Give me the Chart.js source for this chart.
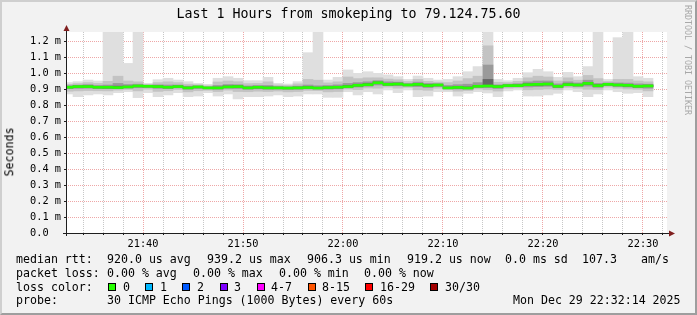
<!DOCTYPE html>
<html>
<head>
<meta charset="utf-8">
<script src="https://cdn.jsdelivr.net/npm/chart.js@4.4.1/dist/chart.umd.min.js"></script>
<style>
  html, body { margin: 0; padding: 0; }
  body {
    width: 697px; height: 315px; position: relative; overflow: hidden;
    background: #f2f2f2; color: #000;
    font-family: "DejaVu Sans Mono", monospace;
  }
  #frame {
    position: absolute; left: 0; top: 0; width: 697px; height: 315px;
    box-sizing: border-box; border-style: solid; border-width: 2px;
    border-color: #cfcfcf #9e9e9e #9e9e9e #cfcfcf; pointer-events: none;
  }
  canvas { position: absolute; left: 0; top: 0; }
  .t { position: absolute; white-space: pre; line-height: 1; font-size: 11.6px; }
  .sw { position: absolute; width: 8px; height: 8px; box-sizing: border-box; border: 1px solid #000; }
  #title { position: absolute; left: 0; width: 697px; top: 6.6px; text-align: center; font-size: 13.3px; line-height: 1; white-space: pre; }
  #ylabel { position: absolute; left: 10px; top: 152px; font-size: 11.6px; line-height: 1;
            transform: translate(-50%, -50%) rotate(-90deg); white-space: pre; }
  #mark { position: absolute; left: 684px; top: 5px; font-size: 8.3px; line-height: 1; color: #a8a8a8;
          writing-mode: vertical-rl; white-space: pre; }
</style>
</head>
<body>
<canvas id="smoke" width="697" height="315"></canvas>

<div id="title">Last 1 Hours from smokeping to 79.124.75.60</div>
<div id="ylabel">Seconds</div>
<div id="mark">RRDTOOL / TOBI OETIKER</div>

<div class="t" style="left:16px; top:254.4px">median rtt:</div>
<div class="t" style="left:107px; top:254.4px">920.0 us avg</div>
<div class="t" style="left:207px; top:254.4px">939.2 us max</div>
<div class="t" style="left:307px; top:254.4px">906.3 us min</div>
<div class="t" style="left:407px; top:254.4px">919.2 us now</div>
<div class="t" style="left:505px; top:254.4px">0.0 ms sd</div>
<div class="t" style="left:582px; top:254.4px">107.3</div>
<div class="t" style="left:641px; top:254.4px">am/s</div>

<div class="t" style="left:16px; top:268.1px">packet loss:</div>
<div class="t" style="left:107px; top:268.1px">0.00 % avg</div>
<div class="t" style="left:193px; top:268.1px">0.00 % max</div>
<div class="t" style="left:279px; top:268.1px">0.00 % min</div>
<div class="t" style="left:364px; top:268.1px">0.00 % now</div>

<div class="t" style="left:16px; top:281.7px">loss color:</div>
<div id="lossKey"></div>

<div class="t" style="left:16px; top:295.4px">probe:</div>
<div class="t" style="left:107px; top:295.4px">30 ICMP Echo Pings (1000 Bytes) every 60s</div>
<div class="t" style="left:513px; top:295.4px">Mon Dec 29 22:32:14 2025</div>

<div id="frame"></div>

<script>
// one bar per minute, x in minutes after midnight (bar k = 21:32+k .. 21:33+k)
const startMinute = 1292;
const viewStart = 1292.3;   // 21:32:14 roughly
const viewEnd = 1352.4;

// values in ms
const median = [0.911, 0.915, 0.915, 0.911, 0.911, 0.909, 0.913, 0.919, 0.917, 0.915,
  0.911, 0.915, 0.907, 0.913, 0.907, 0.907, 0.913, 0.915, 0.907, 0.911,
  0.907, 0.907, 0.906, 0.907, 0.909, 0.906, 0.909, 0.911, 0.915, 0.923,
  0.927, 0.939, 0.929, 0.931, 0.925, 0.929, 0.921, 0.925, 0.907, 0.910,
  0.906, 0.917, 0.919, 0.915, 0.921, 0.921, 0.927, 0.929, 0.931, 0.917,
  0.927, 0.925, 0.935, 0.921, 0.929, 0.925, 0.923, 0.917, 0.919];

const pingMin = [0.869, 0.852, 0.863, 0.869, 0.863, 0.877, 0.883, 0.846, 0.877, 0.852,
  0.863, 0.877, 0.852, 0.856, 0.877, 0.856, 0.869, 0.838, 0.852, 0.852,
  0.856, 0.863, 0.852, 0.856, 0.869, 0.869, 0.848, 0.848, 0.883, 0.863,
  0.883, 0.869, 0.894, 0.877, 0.894, 0.852, 0.856, 0.883, 0.883, 0.856,
  0.873, 0.883, 0.875, 0.852, 0.888, 0.894, 0.856, 0.856, 0.863, 0.873,
  0.894, 0.883, 0.852, 0.869, 0.894, 0.883, 0.873, 0.877, 0.852];

// 1.300 = went off the top of the graph
const pingMax = [0.940, 0.946, 0.956, 0.950, 1.300, 1.300, 1.060, 1.300, 0.935, 0.958,
  0.967, 0.956, 0.946, 0.935, 0.929, 0.967, 0.977, 0.967, 0.952, 0.952,
  0.973, 0.935, 0.931, 0.946, 1.127, 1.300, 0.956, 0.973, 1.019, 0.998,
  1.008, 0.998, 0.988, 0.977, 0.960, 0.981, 0.967, 0.956, 0.960, 0.977,
  1.008, 1.040, 1.300, 0.960, 0.952, 0.967, 1.002, 1.023, 1.008, 0.973,
  1.004, 0.977, 1.040, 1.300, 0.960, 1.221, 1.300, 0.977, 0.967];

const p10 = [0.886, 0.888, 0.890, 0.889, 0.888, 0.893, 0.897, 0.888, 0.899, 0.885,
  0.889, 0.897, 0.882, 0.889, 0.892, 0.884, 0.893, 0.884, 0.883, 0.886,
  0.884, 0.887, 0.882, 0.884, 0.891, 0.890, 0.882, 0.884, 0.900, 0.896,
  0.906, 0.905, 0.912, 0.905, 0.910, 0.895, 0.892, 0.905, 0.895, 0.886,
  0.890, 0.900, 0.895, 0.887, 0.905, 0.907, 0.895, 0.897, 0.900, 0.897,
  0.910, 0.905, 0.898, 0.897, 0.912, 0.905, 0.900, 0.898, 0.888];

const p90 = [0.929, 0.934, 0.940, 0.935, 0.948, 0.980, 0.950, 0.945, 0.928, 0.940,
  0.945, 0.940, 0.930, 0.927, 0.920, 0.944, 0.950, 0.946, 0.934, 0.935,
  0.945, 0.925, 0.922, 0.932, 0.960, 0.955, 0.938, 0.945, 0.975, 0.965,
  0.970, 0.970, 0.962, 0.958, 0.947, 0.960, 0.948, 0.943, 0.940, 0.950,
  0.965, 0.980, 1.170, 0.942, 0.940, 0.948, 0.970, 0.980, 0.975, 0.950,
  0.970, 0.955, 0.985, 0.965, 0.947, 0.960, 0.960, 0.950, 0.945];

const p25 = [0.902, 0.904, 0.905, 0.902, 0.902, 0.902, 0.905, 0.908, 0.910, 0.904,
  0.902, 0.907, 0.898, 0.903, 0.900, 0.898, 0.904, 0.903, 0.898, 0.901,
  0.898, 0.899, 0.897, 0.898, 0.901, 0.899, 0.899, 0.901, 0.907, 0.912,
  0.917, 0.925, 0.921, 0.920, 0.918, 0.915, 0.909, 0.916, 0.901, 0.900,
  0.899, 0.909, 0.908, 0.903, 0.913, 0.914, 0.913, 0.915, 0.917, 0.908,
  0.919, 0.916, 0.918, 0.910, 0.921, 0.916, 0.912, 0.908, 0.905];

const p75 = [0.921, 0.924, 0.927, 0.922, 0.925, 0.935, 0.928, 0.930, 0.924, 0.926,
  0.925, 0.925, 0.918, 0.920, 0.914, 0.922, 0.928, 0.927, 0.919, 0.922,
  0.922, 0.916, 0.914, 0.918, 0.925, 0.920, 0.922, 0.926, 0.935, 0.940,
  0.945, 0.952, 0.945, 0.943, 0.935, 0.943, 0.935, 0.934, 0.922, 0.927,
  0.930, 0.940, 1.050, 0.926, 0.930, 0.933, 0.945, 0.950, 0.950, 0.932,
  0.945, 0.938, 0.955, 0.935, 0.938, 0.938, 0.937, 0.932, 0.930];

const p40 = [0.907, 0.910, 0.911, 0.907, 0.906, 0.905, 0.909, 0.914, 0.913, 0.910,
  0.907, 0.911, 0.903, 0.908, 0.904, 0.903, 0.909, 0.910, 0.903, 0.906,
  0.903, 0.903, 0.902, 0.903, 0.905, 0.902, 0.904, 0.906, 0.911, 0.918,
  0.922, 0.933, 0.925, 0.926, 0.921, 0.923, 0.916, 0.920, 0.903, 0.905,
  0.902, 0.913, 0.914, 0.910, 0.917, 0.917, 0.921, 0.923, 0.925, 0.912,
  0.922, 0.920, 0.929, 0.916, 0.925, 0.920, 0.918, 0.912, 0.914];

const p60 = [0.915, 0.919, 0.920, 0.916, 0.917, 0.918, 0.918, 0.923, 0.920, 0.920,
  0.916, 0.919, 0.912, 0.916, 0.910, 0.912, 0.919, 0.920, 0.912, 0.916,
  0.913, 0.911, 0.910, 0.912, 0.915, 0.911, 0.914, 0.917, 0.922, 0.930,
  0.934, 0.944, 0.936, 0.937, 0.929, 0.935, 0.928, 0.929, 0.912, 0.916,
  0.913, 0.923, 0.960, 0.920, 0.925, 0.926, 0.933, 0.935, 0.937, 0.923,
  0.933, 0.930, 0.942, 0.927, 0.933, 0.930, 0.929, 0.923, 0.924];

const timeTicks = [1300, 1310, 1320, 1330, 1340, 1350];
const timeLabels = ["21:40", "21:50", "22:00", "22:10", "22:20", "22:30"];
const valueTicks = [0, 0.1, 0.2, 0.3, 0.4, 0.5, 0.6, 0.7, 0.8, 0.9, 1.0, 1.1, 1.2];
const valueLabels = ["0.0  ", "0.1 m", "0.2 m", "0.3 m", "0.4 m", "0.5 m", "0.6 m",
  "0.7 m", "0.8 m", "0.9 m", "1.0 m", "1.1 m", "1.2 m"];

const lossNames = ["0", "1", "2", "3", "4-7", "8-15", "16-29", "30/30"];
const lossColors = ["#26ff00", "#00b8ff", "#0059ff", "#7e00ff", "#ff00ff", "#ff5500", "#ff0000", "#a10000"];
const lossBoxX = [108, 145, 182, 219.5, 256.5, 307.5, 365, 430];
const lossTextX = [123, 160, 197, 234, 271, 322, 380, 445];

// legend swatches
const key = document.getElementById("lossKey");
lossNames.forEach((name, i) => {
  const box = document.createElement("div");
  box.className = "sw";
  box.style.left = lossBoxX[i] + "px";
  box.style.top = "283.3px";
  box.style.background = lossColors[i];
  key.appendChild(box);
  const txt = document.createElement("div");
  txt.className = "t";
  txt.style.left = lossTextX[i] + "px";
  txt.style.top = "281.7px";
  txt.textContent = name;
  key.appendChild(txt);
});

const PX = 0.00625; // one pixel of the value axis, median band is 2px tall
const GRID = "rgba(143,143,143,0.5)";
const MGRID = "rgba(222,79,79,0.5)";
const NONE = "rgba(0,0,0,0)";

function band(lo, hi) {
  return lo.map((v, k) => ({ x: startMinute + k + 0.5, y: [v, hi[k]] }));
}

const rrdFrame = {
  id: "rrdFrame",
  beforeDraw(chart) {
    const { ctx, chartArea: a } = chart;
    ctx.save();
    ctx.fillStyle = "#ffffff";
    ctx.fillRect(a.left, a.top, a.right - a.left, a.bottom - a.top);
    ctx.restore();
  },
  afterDraw(chart) {
    const { ctx, chartArea: a } = chart;
    ctx.save();
    ctx.strokeStyle = "#1f1f1f";
    ctx.lineWidth = 1;
    ctx.beginPath();
    ctx.moveTo(a.left - 3, a.bottom + 0.5);
    ctx.lineTo(a.right + 3, a.bottom + 0.5);
    ctx.moveTo(a.left + 0.5, a.bottom + 3);
    ctx.lineTo(a.left + 0.5, a.top - 3);
    ctx.stroke();
    ctx.fillStyle = "#801f1f";
    ctx.beginPath();
    ctx.moveTo(a.right + 8, a.bottom + 0.5);
    ctx.lineTo(a.right + 2, a.bottom - 2.5);
    ctx.lineTo(a.right + 2, a.bottom + 3.5);
    ctx.closePath();
    ctx.fill();
    ctx.beginPath();
    ctx.moveTo(a.left + 0.5, a.top - 7);
    ctx.lineTo(a.left - 2.5, a.top - 1);
    ctx.lineTo(a.left + 3.5, a.top - 1);
    ctx.closePath();
    ctx.fill();
    ctx.restore();
  }
};

const gridMinutes = [];
for (let m = 1294; m <= 1352; m += 2) gridMinutes.push(m);

const tickFont = { family: "DejaVu Sans Mono", size: 10.3 };

new Chart(document.getElementById("smoke"), {
  type: "bar",
  data: {
    datasets: [
      {
        label: "median",
        data: median.map((v, k) => ({ x: startMinute + k + 0.5, y: [v - PX, v + PX] })),
        backgroundColor: lossColors[0],
        order: 0,
        clip: 0,
      },
      { label: "p40-p60", data: band(p40, p60), backgroundColor: "#666666", order: 1, clip: 0 },
      { label: "p25-p75", data: band(p25, p75), backgroundColor: "#9a9a9a", order: 2, clip: 0 },
      { label: "p10-p90", data: band(p10, p90), backgroundColor: "#c3c3c3", order: 3, clip: 0 },
      { label: "min-max", data: band(pingMin, pingMax), backgroundColor: "#dfdfdf", order: 4, clip: 0 },
    ],
  },
  options: {
    responsive: false,
    devicePixelRatio: 1,
    animation: false,
    events: [],
    layout: { padding: { top: 32, right: 30, left: 0, bottom: 0 } },
    plugins: {
      legend: { display: false },
      tooltip: { enabled: false },
    },
    datasets: {
      bar: { grouped: false, barPercentage: 1, categoryPercentage: 1, borderWidth: 0 },
    },
    scales: {
      x: {
        type: "linear",
        offset: false,
        min: viewStart,
        max: viewEnd,
        z: 1,
        afterBuildTicks: (scale) => { scale.ticks = gridMinutes.map((v) => ({ value: v })); },
        afterFit: (scale) => { scale.height = 82; },
        grid: {
          offset: false,
          color: (c) => (!c.tick ? NONE : timeTicks.includes(c.tick.value) ? MGRID : GRID),
          tickColor: "#1f1f1f",
          tickLength: 2,
        },
        border: { display: false, dash: [1, 1] },
        ticks: {
          autoSkip: false,
          maxRotation: 0,
          padding: 3.5,
          color: "#000",
          font: tickFont,
          callback: (value) => {
            const i = timeTicks.indexOf(value);
            return i < 0 ? "" : timeLabels[i];
          },
        },
      },
      y: {
        min: 0,
        max: 1.25625,
        z: 1,
        afterBuildTicks: (scale) => { scale.ticks = valueTicks.map((v) => ({ value: v })); },
        afterFit: (scale) => { scale.width = 66; },
        grid: {
          color: (c) => (!c.tick || c.tick.value === 0 ? NONE : MGRID),
          tickColor: "#1f1f1f",
          tickLength: 2,
        },
        border: { display: false, dash: [1, 1] },
        ticks: {
          padding: 3,
          color: "#000",
          font: tickFont,
          callback: (value, index) => valueLabels[index],
        },
      },
    },
  },
  plugins: [rrdFrame],
});
</script>
</body>
</html>
